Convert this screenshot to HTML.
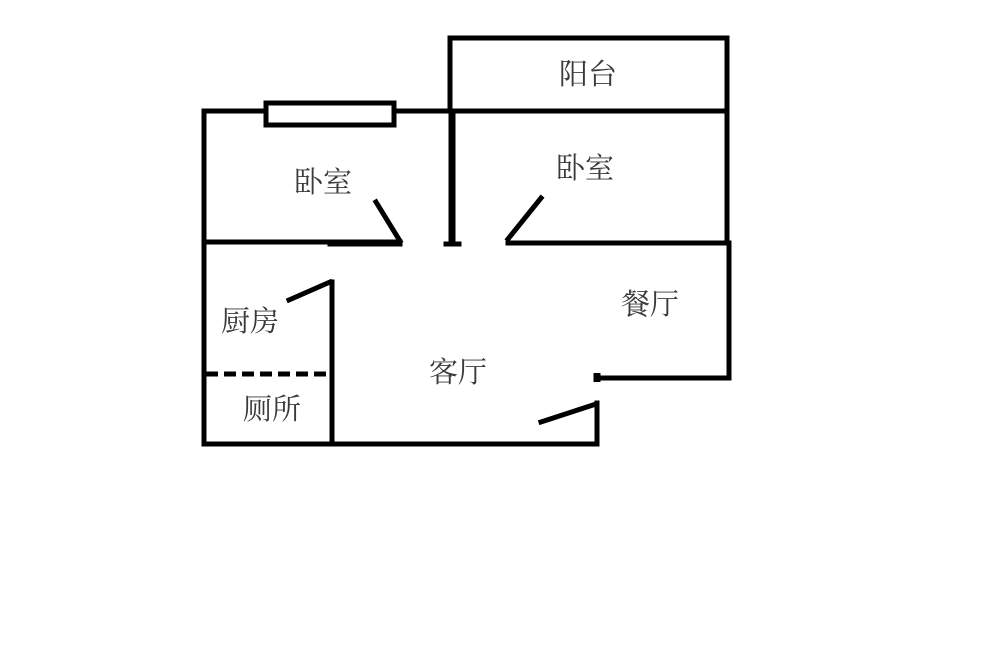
<!DOCTYPE html>
<html><head><meta charset="utf-8"><style>
html,body{margin:0;padding:0;background:#fff;}
svg{display:block}
text{font-family:"Liberation Serif","Noto Serif CJK SC",serif;font-size:29px;fill:#3a3a3a;text-anchor:middle;dominant-baseline:central}
</style></head><body>
<svg width="1000" height="666" viewBox="0 0 1000 666" xmlns="http://www.w3.org/2000/svg">
<g stroke="#000" fill="none" stroke-width="5" stroke-linecap="square">
<rect x="450" y="38" width="277" height="73"/>
<line x1="204" y1="111" x2="727" y2="111"/>
<rect x="266" y="103" width="128" height="22" fill="#fff"/>
<line x1="204" y1="111" x2="204" y2="444"/>
<line x1="452" y1="111" x2="452" y2="245" stroke-width="7" stroke-linecap="butt"/>
<line x1="446" y1="244" x2="459" y2="244" stroke-width="5"/>
<line x1="727" y1="111" x2="727" y2="243"/>
<line x1="204" y1="242" x2="400" y2="242"/>
<line x1="330" y1="244" x2="400" y2="244" stroke-width="5"/>
<line x1="508" y1="243" x2="729" y2="243"/>
<line x1="376" y1="202" x2="400" y2="241"/>
<line x1="541" y1="198" x2="508" y2="239"/>
<line x1="729" y1="243" x2="729" y2="378"/>
<line x1="597" y1="378" x2="729" y2="378"/>
<line x1="597" y1="373" x2="597" y2="382" stroke-width="7" stroke-linecap="butt"/>
<line x1="597" y1="403" x2="597" y2="444"/>
<line x1="541" y1="422" x2="596" y2="404"/>
<line x1="204" y1="444" x2="597" y2="444"/>
<line x1="332" y1="282" x2="332" y2="444"/>
<line x1="289" y1="300" x2="330" y2="282"/>
<line x1="206" y1="374" x2="330" y2="374" stroke-dasharray="12,6" stroke-linecap="butt"/>
</g>
<text x="588" y="75">阳台</text>
<text x="323" y="183">卧室</text>
<text x="585" y="169">卧室</text>
<text x="250" y="322">厨房</text>
<text x="272" y="410">厕所</text>
<text x="458" y="373">客厅</text>
<text x="650" y="305">餐厅</text>
</svg>
</body></html>
